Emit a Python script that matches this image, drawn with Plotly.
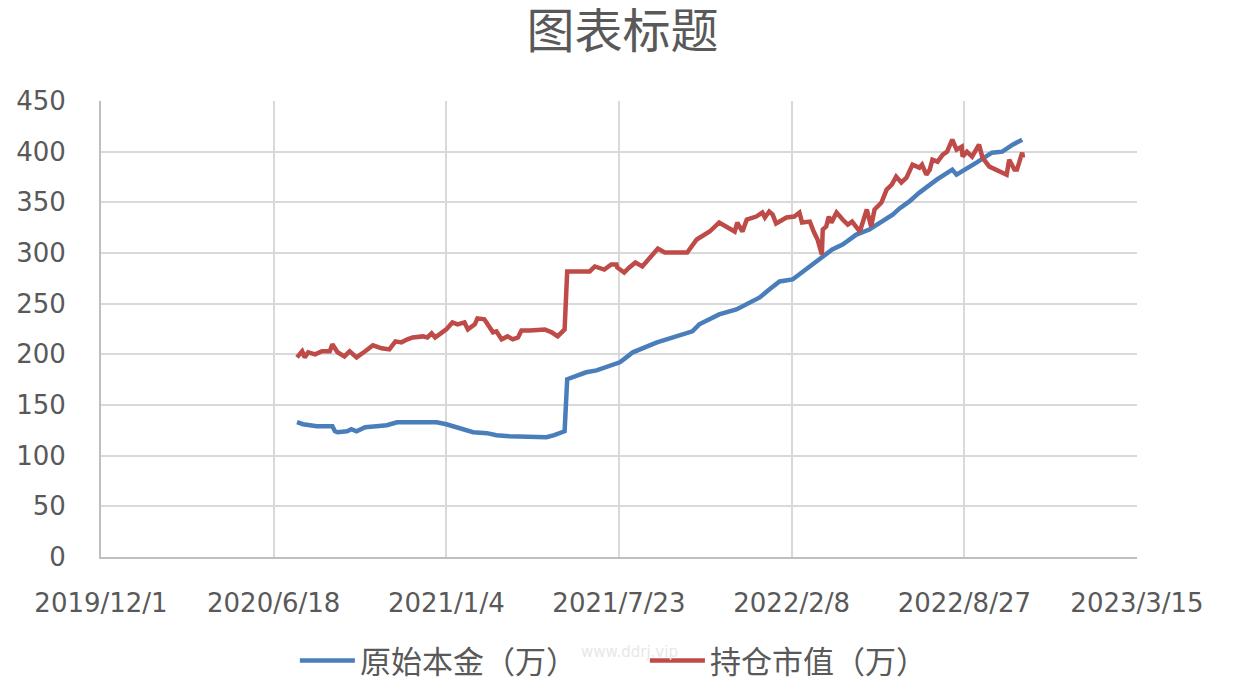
import plotly.graph_objects as go

# ---- data ----
blue_name = "原始本金（万）"
red_name = "持仓市值（万）"

blue_dates = [
    "2020-07-15", "2020-07-22", "2020-08-07", "2020-08-25", "2020-08-28", "2020-08-31",
    "2020-09-11", "2020-09-16", "2020-09-22", "2020-10-02", "2020-10-15", "2020-10-27",
    "2020-11-08", "2020-11-19", "2020-12-08", "2020-12-24", "2021-01-04", "2021-01-08",
    "2021-01-20", "2021-02-04", "2021-02-20", "2021-03-03", "2021-03-18", "2021-04-02",
    "2021-04-22", "2021-04-30", "2021-05-09", "2021-05-21", "2021-05-24", "2021-06-04",
    "2021-06-15", "2021-06-27", "2021-07-09", "2021-07-16", "2021-07-24", "2021-08-02",
    "2021-08-08", "2021-09-05", "2021-09-28", "2021-10-16", "2021-10-24", "2021-11-16",
    "2021-12-06", "2022-01-02", "2022-01-13", "2022-01-25", "2022-02-09", "2022-02-17",
    "2022-03-01", "2022-03-16", "2022-03-27", "2022-04-08", "2022-04-24", "2022-05-09",
    "2022-05-21", "2022-06-05", "2022-06-13", "2022-06-24", "2022-07-06", "2022-07-26",
    "2022-08-13", "2022-08-18", "2022-09-10", "2022-09-28", "2022-10-10", "2022-10-22",
    "2022-11-02",
]
blue_values = [
    133.0, 131.0, 129.1, 129.1, 124.1, 123.2,
    124.1, 126.1, 124.1, 128.1, 129.1, 130.0,
    133.0, 133.0, 133.0, 133.0, 131.0, 130.0,
    126.1, 123.2, 122.2, 120.2, 119.2, 119.2,
    119.2, 118.2, 120.2, 124.1, 175.4, 178.3,
    182.3, 184.2, 187.2, 190.1, 192.1, 198.0,
    202.0, 211.8, 217.7, 222.7, 229.6, 239.4,
    244.3, 256.2, 264.0, 271.9, 273.9, 278.8,
    286.7, 296.6, 303.4, 308.4, 318.2, 323.2,
    330.0, 337.9, 344.0, 350.7, 359.6, 372.4,
    382.3, 377.3, 389.2, 399.0, 400.0, 406.9,
    411.8,
]

red_dates = [
    "2020-07-15", "2020-07-21", "2020-07-24", "2020-07-28", "2020-08-05", "2020-08-13",
    "2020-08-22", "2020-08-25", "2020-08-31", "2020-09-08", "2020-09-14", "2020-09-22",
    "2020-10-02", "2020-10-11", "2020-10-21", "2020-10-30", "2020-11-06", "2020-11-13",
    "2020-11-20", "2020-11-26", "2020-12-08", "2020-12-13", "2020-12-18", "2020-12-22",
    "2020-12-27", "2021-01-04", "2021-01-11", "2021-01-17", "2021-01-25", "2021-01-29",
    "2021-02-06", "2021-02-09", "2021-02-17", "2021-02-23", "2021-02-27", "2021-03-03",
    "2021-03-09", "2021-03-16", "2021-03-22", "2021-03-28", "2021-04-01", "2021-04-11",
    "2021-04-28", "2021-05-06", "2021-05-13", "2021-05-21", "2021-05-24", "2021-05-30",
    "2021-06-19", "2021-06-25", "2021-07-01", "2021-07-06", "2021-07-14", "2021-07-20",
    "2021-07-21", "2021-07-29", "2021-08-04", "2021-08-11", "2021-08-19", "2021-09-06",
    "2021-09-14", "2021-10-10", "2021-10-21", "2021-11-05", "2021-11-16", "2021-12-04",
    "2021-12-07", "2021-12-13", "2021-12-18", "2021-12-29", "2022-01-05", "2022-01-08",
    "2022-01-13", "2022-01-17", "2022-01-21", "2022-02-02", "2022-02-11", "2022-02-17",
    "2022-02-20", "2022-03-01", "2022-03-06", "2022-03-10", "2022-03-15", "2022-03-16",
    "2022-03-20", "2022-03-23", "2022-03-26", "2022-04-01", "2022-04-08", "2022-04-14",
    "2022-04-19", "2022-04-28", "2022-05-06", "2022-05-11", "2022-05-15", "2022-05-23",
    "2022-05-29", "2022-06-04", "2022-06-09", "2022-06-15", "2022-06-21", "2022-06-28",
    "2022-07-06", "2022-07-09", "2022-07-14", "2022-07-18", "2022-07-21", "2022-07-27",
    "2022-08-02", "2022-08-07", "2022-08-13", "2022-08-18", "2022-08-24", "2022-08-25",
    "2022-08-30", "2022-09-05", "2022-09-13", "2022-09-17", "2022-09-25", "2022-10-06",
    "2022-10-15", "2022-10-18", "2022-10-24", "2022-10-27", "2022-11-02", "2022-11-03",
]
red_values = [
    197.0, 203.0, 197.0, 202.0, 200.0, 203.0,
    203.0, 209.9, 202.0, 198.0, 203.0, 197.0,
    203.0, 208.9, 205.9, 204.9, 212.8, 211.8,
    214.8, 216.7, 217.7, 216.7, 220.7, 216.7,
    219.7, 224.6, 231.5, 229.6, 231.5, 224.6,
    229.6, 235.5, 234.5, 226.6, 221.7, 222.7,
    214.8, 217.7, 214.8, 216.7, 223.6, 223.6,
    224.6, 221.7, 217.7, 224.6, 281.8, 281.8,
    281.8, 286.7, 284.7, 283.7, 288.7, 288.7,
    285.7, 280.8, 285.7, 290.6, 286.7, 304.4,
    300.5, 300.5, 313.3, 321.2, 330.0, 321.2,
    330.0, 321.2, 333.0, 336.0, 339.9, 335.0,
    340.9, 337.9, 329.1, 335.0, 336.0, 339.9,
    330.0, 331.0, 320.2, 313.3, 298.5, 323.2,
    326.1, 336.0, 330.0, 339.9, 333.0, 328.1,
    331.0, 321.2, 342.9, 326.1, 342.9, 349.8,
    362.6, 367.5, 375.4, 369.5, 374.4, 387.2,
    384.2, 387.2, 377.3, 382.3, 392.1, 390.1,
    397.0, 400.0, 411.8, 402.0, 404.9, 395.1,
    400.0, 395.1, 406.9, 394.1, 385.2, 380.3,
    377.3, 392.1, 382.3, 382.3, 399.0, 394.1,
]

x_tick_vals = ["2019-12-01", "2020-06-18", "2021-01-04", "2021-07-23",
               "2022-02-08", "2022-08-27", "2023-03-15"]
x_tick_text = ["2019/12/1", "2020/6/18", "2021/1/4", "2021/7/23",
               "2022/2/8", "2022/8/27", "2023/3/15"]
y_tick_vals = [0, 50, 100, 150, 200, 250, 300, 350, 400, 450]

title_text = "图表标题"
watermark = "www.ddrj.vip"

# ---- figure ----
fig = go.Figure()
fig.add_trace(go.Scatter(x=blue_dates, y=blue_values, mode="lines", name=blue_name,
                         line=dict(color="#4a7ebb", width=4.5)))
fig.add_trace(go.Scatter(x=red_dates, y=red_values, mode="lines", name=red_name,
                         line=dict(color="#be4b48", width=4.5)))

tick_font = dict(family="DejaVu Sans", size=26, color="#595959")
cjk = "Noto Sans CJK SC"

# page body has an 8px margin, so the figure is sized/offset to compensate
fig.update_layout(
    width=1229, height=669,
    paper_bgcolor="white", plot_bgcolor="white",
    margin=dict(l=93, r=100, t=93, b=120, autoexpand=False),
    title=dict(text=title_text, x=0.5, xanchor="center", y=1 - 23 / 669, yanchor="middle",
               yref="container", font=dict(family=cjk, size=48, color="#595959"),
               automargin=False),
    showlegend=True,
    legend=dict(orientation="h", x=0.525, xanchor="center", y=-0.228, yanchor="middle",
                font=dict(family=cjk, size=31, color="#595959"), itemwidth=55,
                entrywidth=280, entrywidthmode="pixels",
                bgcolor="rgba(0,0,0,0)"),
    xaxis=dict(type="date", range=["2019-12-01", "2023-03-15"], tickvals=x_tick_vals,
               ticktext=x_tick_text, showgrid=True, gridcolor="#d9d9d9", gridwidth=2,
               showline=True, linecolor="#bfbfbf", linewidth=2, ticks="",
               tickfont=tick_font, ticklabelstandoff=22, zeroline=False, automargin=False),
    yaxis=dict(range=[0, 450], tickvals=y_tick_vals, showgrid=True, gridcolor="#d9d9d9",
               gridwidth=2, showline=True, linecolor="#bfbfbf", linewidth=2, ticks="",
               tickfont=tick_font, ticklabelstandoff=28, zeroline=False, automargin=False),
    annotations=[dict(text=watermark, x=0.51, y=-0.232, xref="paper", yref="paper",
                      showarrow=False, font=dict(family="DejaVu Sans", size=15, color="#e8e8e8"))],
)

fig.write_html("out.html")
